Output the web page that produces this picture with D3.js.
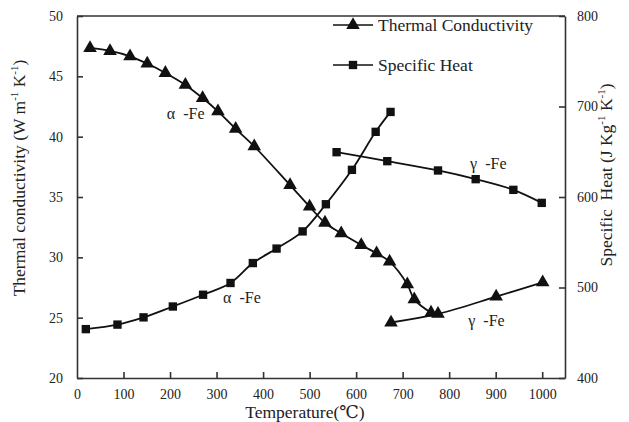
<!DOCTYPE html>
<meta charset="utf-8">
<script src="https://d3js.org/d3.v7.min.js"></script>
<style>
  body { margin: 0; background: #fff; }
  svg text { font-family: "Liberation Serif", "DejaVu Serif", serif; fill: #222; }
</style>
<div id="my_dataviz"></div>
<script>
// thermal conductivity (W m-1 K-1), alpha and gamma iron
var kAlphaT = [28, 71, 114, 151, 190, 233, 270, 303, 341, 381, 458, 500, 533, 568, 611, 644, 672, 710, 725, 761];
var kAlphaV = [47.35, 47.1, 46.66, 46.06, 45.28, 44.29, 43.2, 42.1, 40.65, 39.2, 35.98, 34.2, 32.87, 31.99, 31.02, 30.33, 29.64, 27.76, 26.52, 25.41];
var kGammaT = [675, 776, 901, 1001];
var kGammaV = [24.6, 25.31, 26.74, 27.93];

// specific heat (J Kg-1 K-1)
var cAlphaT = [19, 87, 143, 206, 271, 330, 378, 429, 485, 535, 591, 642, 674];
var cAlphaV = [454, 459, 467, 479, 492, 505, 527, 543, 562, 592, 630, 672, 694];
var cGammaT = [558, 667, 776, 857, 938, 999];
var cGammaV = [649.5, 639.6, 629.3, 619.7, 607.9, 593.5];

var xTicks = [0, 100, 200, 300, 400, 500, 600, 700, 800, 900, 1000];
var yLeftTicks = [20, 25, 30, 35, 40, 45, 50];
var yRightTicks = [400, 500, 600, 700, 800];

var margin = {top: 16, right: 64, bottom: 44, left: 77},
    width = 629 - margin.left - margin.right,
    height = 422 - margin.top - margin.bottom;

var svg = d3.select("#my_dataviz")
  .append("svg")
    .attr("width", 629)
    .attr("height", 422)
    .attr("font-family", "Liberation Serif, serif")
  .append("g")
    .attr("transform", "translate(" + margin.left + "," + margin.top + ")");

var x = d3.scaleLinear().domain([0, 1049]).range([0, width]);
var yL = d3.scaleLinear().domain([20, 50]).range([height, 0]);
var yR = d3.scaleLinear().domain([400, 800]).range([height, 0]);

function zip(a, b) { return a.map(function(t, i) { return [t, b[i]]; }); }

// axes, ticks point inward
var xAxis = svg.append("g")
  .attr("transform", "translate(0," + height + ")")
  .call(d3.axisBottom(x).tickValues(xTicks).tickFormat(d3.format("d")).tickSize(-6).tickSizeOuter(0).tickPadding(11));
var lAxis = svg.append("g")
  .call(d3.axisLeft(yL).tickValues(yLeftTicks).tickSize(-6).tickSizeOuter(0).tickPadding(14));
var rAxis = svg.append("g")
  .attr("transform", "translate(" + width + ",0)")
  .call(d3.axisRight(yR).tickValues(yRightTicks).tickSize(-6).tickSizeOuter(0).tickPadding(12));
[xAxis, lAxis, rAxis].forEach(function(a) {
  a.attr("font-family", null).attr("font-size", null);
  a.selectAll("path, line").attr("stroke", "#333").attr("stroke-width", 1.6);
  a.selectAll("text").style("font-size", "14px").attr("fill", "#222");
});
xAxis.selectAll(".tick").filter(function(d) { return d === 0; }).select("line").remove();
svg.append("line").attr("x1", 0).attr("x2", width).attr("y1", 0).attr("y2", 0)
  .attr("stroke", "#333").attr("stroke-width", 1.6);

var lineK = d3.line().x(function(d) { return x(d[0]); }).y(function(d) { return yL(d[1]); }).curve(d3.curveCatmullRom);
var lineC = d3.line().x(function(d) { return x(d[0]); }).y(function(d) { return yR(d[1]); }).curve(d3.curveCatmullRom);

var tri = d3.symbol().type(d3.symbolTriangle).size(80);
var sq = d3.symbol().type(d3.symbolSquare).size(70);

function drawSeries(data, line, yScale, sym) {
  svg.append("path").datum(data).attr("d", line)
    .attr("fill", "none").attr("stroke", "#111").attr("stroke-width", 1.8);
  svg.selectAll(null).data(data).enter().append("path")
    .attr("d", sym)
    .attr("transform", function(d) { return "translate(" + x(d[0]) + "," + yScale(d[1]) + ")"; })
    .attr("fill", "#111");
}
drawSeries(zip(kAlphaT, kAlphaV), lineK, yL, tri);
drawSeries(zip(kGammaT, kGammaV), lineK, yL, tri);
drawSeries(zip(cAlphaT, cAlphaV), lineC, yR, sq);
drawSeries(zip(cGammaT, cGammaV), lineC, yR, sq);

// phase labels
var labels = [
  {t: "α  -Fe", x: 193, y: 41.95, ax: "L"},
  {t: "α  -Fe", x: 314, y: 26.7, ax: "L"},
  {t: "γ  -Fe", x: 845, y: 637, ax: "R"},
  {t: "γ  -Fe", x: 841, y: 464, ax: "R"}
];
svg.selectAll(".lbl").data(labels).enter().append("text")
  .attr("x", function(d) { return x(d.x); })
  .attr("y", function(d) { return d.ax === "L" ? yL(d.y) : yR(d.y); })
  .attr("dy", "0.35em")
  .style("font-size", "16px")
  .style("white-space", "pre")
  .text(function(d) { return d.t; });

// legend
var legend = [{name: "Thermal Conductivity", sym: tri}, {name: "Specific Heat", sym: sq}];
var lg = svg.selectAll(".lg").data(legend).enter().append("g")
  .attr("transform", function(d, i) { return "translate(" + (333 - margin.left) + "," + (25 - margin.top + i * 40) + ")"; });
lg.append("line").attr("x1", 0).attr("x2", 40).attr("stroke", "#111").attr("stroke-width", 1.6);
lg.append("path").attr("d", function(d) { return d.sym(); }).attr("transform", "translate(20,0)").attr("fill", "#111");
lg.append("text").attr("x", 45).attr("dy", "0.35em").style("font-size", "17.5px").text(function(d) { return d.name; });

// axis titles
var tL = svg.append("text").attr("transform", "translate(" + (-52) + "," + (height / 2 - 19) + ") rotate(-90)")
  .attr("text-anchor", "middle").style("font-size", "17.5px");
tL.append("tspan").text("Thermal conductivity (W m");
tL.append("tspan").attr("dy", "-7").style("font-size", "11px").text("-1");
tL.append("tspan").attr("dy", "7").text(" K");
tL.append("tspan").attr("dy", "-7").style("font-size", "11px").text("-1");
tL.append("tspan").attr("dy", "7").text(")");

var tR = svg.append("text").attr("transform", "translate(" + (width + 47) + "," + (height / 2 - 22) + ") rotate(-90)")
  .attr("text-anchor", "middle").style("font-size", "17.5px").style("white-space", "pre");
tR.append("tspan").text("Specific  Heat (J Kg");
tR.append("tspan").attr("dy", "-7").style("font-size", "11px").text("-1");
tR.append("tspan").attr("dy", "7").text(" K");
tR.append("tspan").attr("dy", "-7").style("font-size", "11px").text("-1");
tR.append("tspan").attr("dy", "7").text(")");

svg.append("text").attr("x", x(490)).attr("y", height + 40)
  .attr("text-anchor", "middle").style("font-size", "17.5px").text("Temperature(℃)");
</script>
